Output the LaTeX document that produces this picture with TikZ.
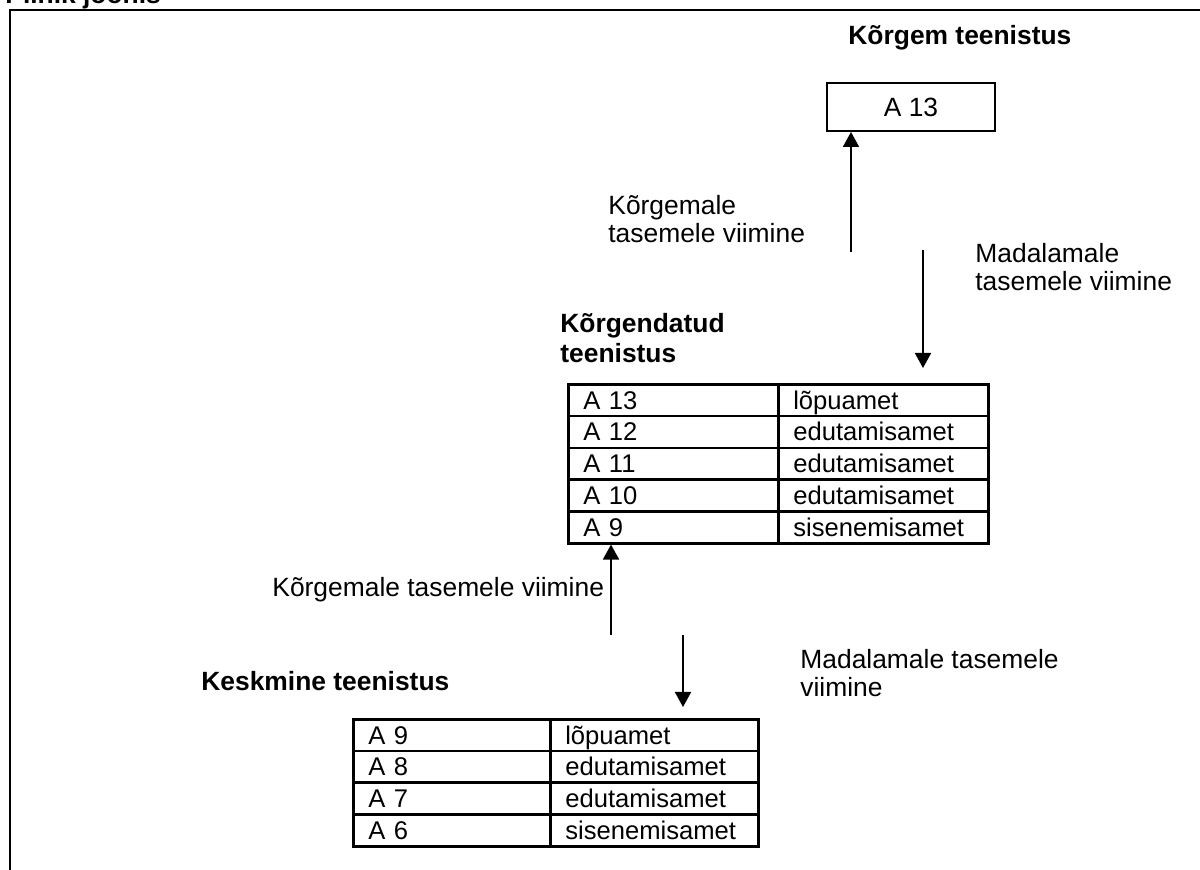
\documentclass[tikz,border=0pt]{standalone}
\usepackage{fontspec}
\setmainfont{Liberation Sans}
\usetikzlibrary{arrows.meta}
\begin{document}
\begin{tikzpicture}[x=0.5pt,y=-0.5pt,
  every node/.style={font=\fontsize{13.2}{14}\selectfont, inner sep=0pt},
  lbl/.style={anchor=base west, align=left},
  bl/.style={lbl, font=\fontsize{13.2}{15}\selectfont\bfseries},
  arr/.style={line width=0.9pt, -{Triangle[width=8pt,length=7.5pt]}},
  cell/.style={draw, line width=1.3pt, anchor=north west, minimum height=15.9pt,
    font=\fontsize{12.8}{14}\selectfont,
    align=left, inner xsep=7.5pt, text height=11pt, text depth=2pt},
  topbox/.style={draw, line width=1pt, minimum width=84pt, minimum height=24pt},
  frame/.style={line width=1.4pt},
]
\useasboundingbox (0,0) rectangle (1200,870);
\clip (0,0) rectangle (1200,870);

% frame and title
\node[bl] (title) at (5,4) {Pilnik joonis};
\coordinate (fbl) at (10,880);
\coordinate (ftl) at (10,10);
\coordinate (ftr) at (1210,10);
\draw[frame] (fbl) -- (ftl) -- (ftr);

% top level
\node[bl] (hdr1) at (848,45) {Kõrgem teenistus};
\node[topbox] (a13) at (911,107) {A 13};

% table 1
\node[bl] (hdr2) at (560,363) {Kõrgendatud\\teenistus};
\foreach \a/\b [count=\i from 0] in {A 13/lõpuamet, A 12/edutamisamet, A 11/edutamisamet, A 10/edutamisamet, A 9/sisenemisamet}{
  \node[cell, text width=90pt] (t1a\i) at (567,{383+31.8*\i}) {\a};
  \node[cell, text width=90pt] (t1b\i) at (777,{383+31.8*\i}) {\b};
}

% table 2
\node[bl] (hdr3) at (201,691) {Keskmine teenistus};
\foreach \a/\b [count=\i from 0] in {A 9/lõpuamet, A 8/edutamisamet, A 7/edutamisamet, A 6/sisenemisamet}{
  \node[cell, text width=83.5pt] (t2a\i) at (352,{718+31.75*\i}) {\a};
  \node[cell, text width=89pt] (t2b\i) at (549,{718+31.75*\i}) {\b};
}

% arrows between top and table 1
\coordinate (u1) at (851,252);
\draw[arr] (u1) -- (u1 |- a13.south);
\node[lbl] (lu1) at (608,243) {Kõrgemale\\tasemele viimine};
\coordinate (d1s) at (923,250);
\coordinate (d1e) at (923,368);
\draw[arr] (d1s) -- (d1e);
\node[lbl] (ld1) at (975,291) {Madalamale\\tasemele viimine};

% arrows between table 1 and table 2
\coordinate (u2) at (611,635);
\draw[arr] (u2) -- (u2 |- t1a4.south);
\node[lbl] (lu2) at (272,597) {Kõrgemale tasemele viimine};
\coordinate (d2s) at (683,635);
\coordinate (d2e) at (683,707);
\draw[arr] (d2s) -- (d2e);
\node[lbl] (ld2) at (800,697) {Madalamale tasemele\\viimine};
\end{tikzpicture}
\end{document}
